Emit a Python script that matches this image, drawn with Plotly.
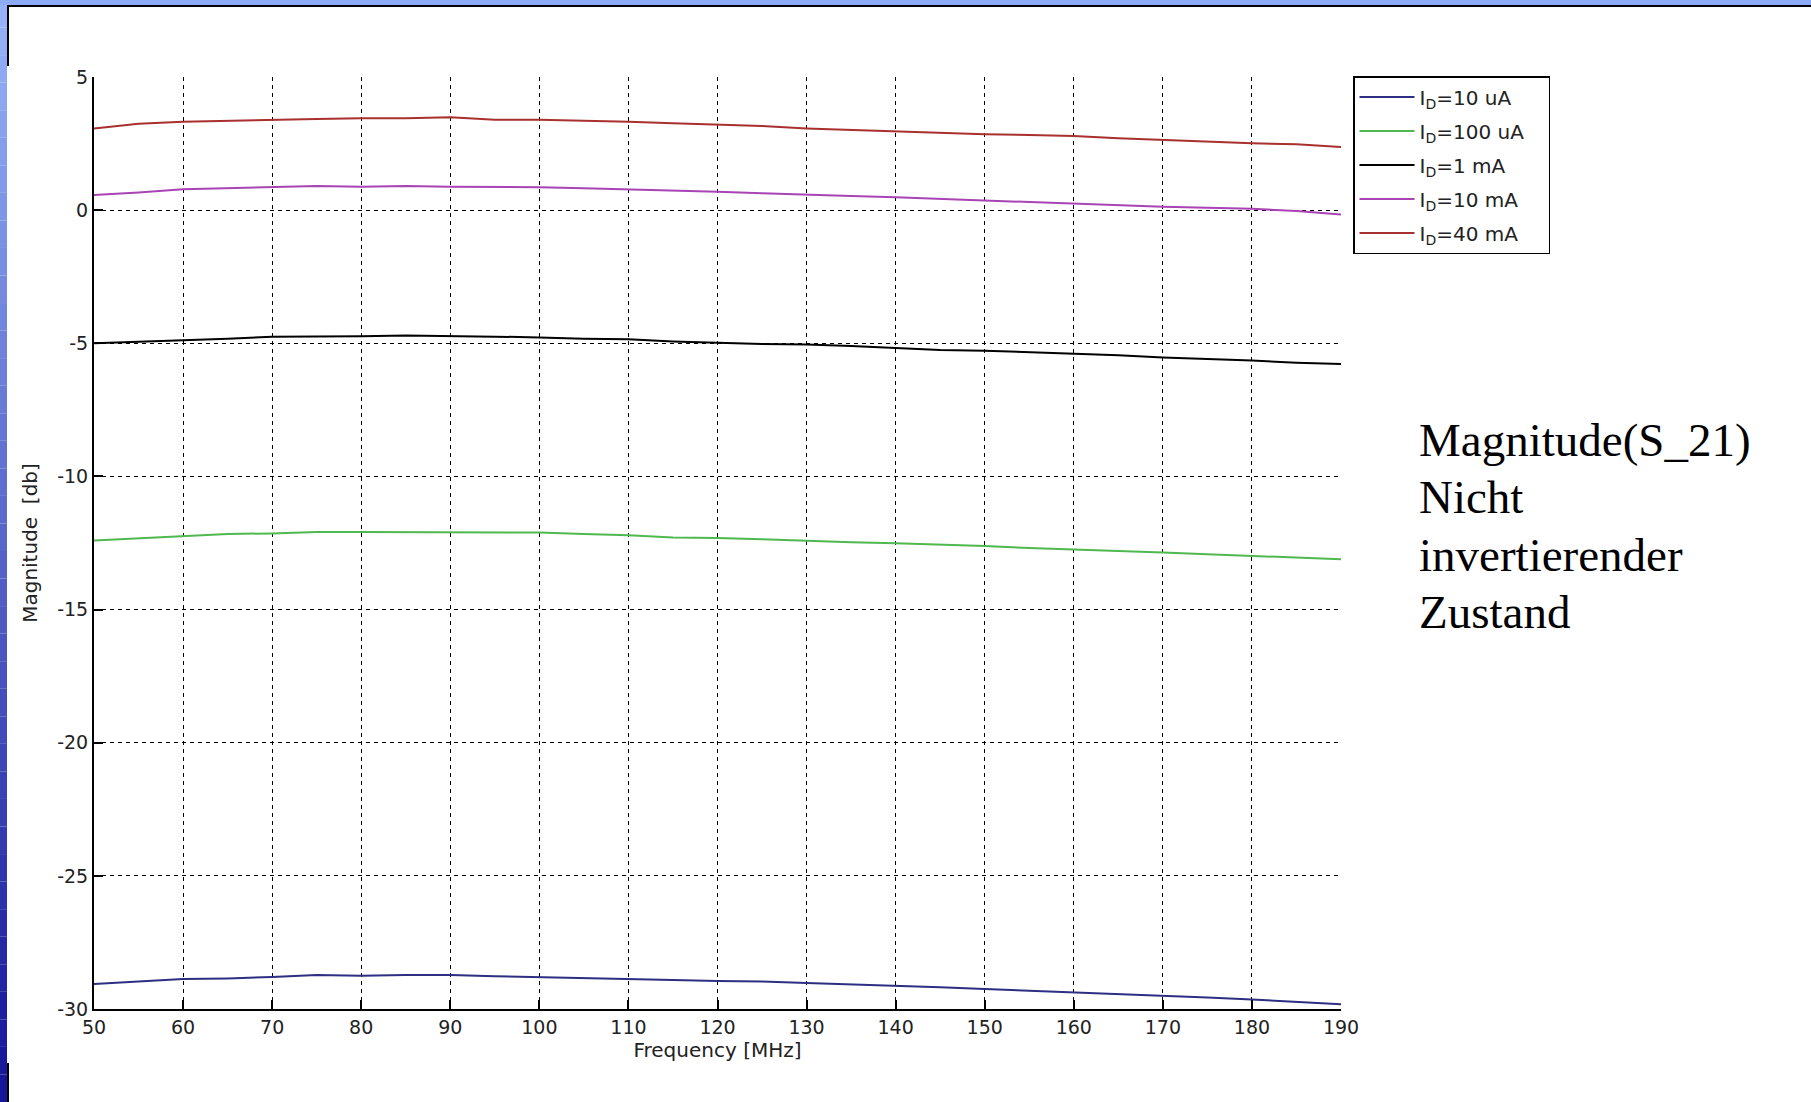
import plotly.graph_objects as go

# ---------------- data ----------------
freq_mhz = [50, 55, 60, 65, 70, 75, 80, 85, 90, 95, 100, 105, 110, 115, 120,
            125, 130, 135, 140, 145, 150, 155, 160, 165, 170, 175, 180, 185, 190]

mag_10uA = [-29.06, -28.97, -28.87, -28.85, -28.80, -28.72, -28.75, -28.72, -28.72, -28.77,
            -28.80, -28.85, -28.87, -28.91, -28.95, -28.97, -29.02, -29.07, -29.12, -29.18,
            -29.25, -29.31, -29.37, -29.45, -29.51, -29.57, -29.64, -29.72, -29.82]
mag_100uA = [-12.41, -12.32, -12.24, -12.16, -12.14, -12.09, -12.09, -12.09, -12.09, -12.09,
             -12.11, -12.16, -12.21, -12.29, -12.31, -12.36, -12.42, -12.47, -12.51, -12.56,
             -12.61, -12.69, -12.74, -12.81, -12.86, -12.92, -12.99, -13.06, -13.11]
mag_1mA = [-5.00, -4.95, -4.90, -4.83, -4.75, -4.75, -4.74, -4.71, -4.72, -4.75,
           -4.78, -4.83, -4.85, -4.93, -4.98, -5.03, -5.05, -5.10, -5.18, -5.25,
           -5.28, -5.33, -5.38, -5.45, -5.53, -5.58, -5.65, -5.73, -5.78]
mag_10mA = [0.57, 0.66, 0.78, 0.83, 0.88, 0.91, 0.88, 0.91, 0.88, 0.87,
            0.86, 0.82, 0.78, 0.73, 0.69, 0.63, 0.57, 0.53, 0.48, 0.42,
            0.36, 0.29, 0.23, 0.18, 0.13, 0.09, 0.05, -0.03, -0.16]
mag_40mA = [3.07, 3.24, 3.32, 3.36, 3.39, 3.42, 3.45, 3.45, 3.49, 3.39,
            3.39, 3.36, 3.32, 3.26, 3.20, 3.16, 3.07, 3.01, 2.95, 2.91,
            2.85, 2.82, 2.78, 2.70, 2.63, 2.57, 2.51, 2.47, 2.37]

series_names = ["I<sub>D</sub>=10 uA", "I<sub>D</sub>=100 uA", "I<sub>D</sub>=1 mA",
                "I<sub>D</sub>=10 mA", "I<sub>D</sub>=40 mA"]
series_values = [mag_10uA, mag_100uA, mag_1mA, mag_10mA, mag_40mA]
series_colors = ["#2e2e82", "#4fb84f", "#000000", "#a844b4", "#a8302e"]

x_tickvals = [50, 60, 70, 80, 90, 100, 110, 120, 130, 140, 150, 160, 170, 180, 190]
x_ticktext = ["50", "60", "70", "80", "90", "100", "110", "120", "130", "140",
              "150", "160", "170", "180", "190"]
y_tickvals = [-30, -25, -20, -15, -10, -5, 0, 5]
y_ticktext = ["-30", "-25", "-20", "-15", "-10", "-5", "0", "5"]

side_text = ["Magnitude(S_21)", "Nicht", "invertierender", "Zustand"]

# ---------------- layout geometry ----------------
W, H = 1811, 1102
L, R, T, B = 94, 1341, 77, 1009
PW, PH = R - L, B - T


def px(xp):
    return (xp - L) / PW


def py(yp):
    return (B - yp) / PH


fig = go.Figure()
for i, (name, vals, col) in enumerate(zip(series_names, series_values, series_colors)):
    fig.add_trace(go.Scatter(x=freq_mhz, y=vals, mode="lines",
                             name=name + "\u00a0\u00a0\u00a0",
                             legendgroup="g%d" % i,
                             line=dict(color=col, width=2)))

shapes = []
# blue slide background strips (gradient approximated by segments)
top_c = (150, 178, 248)
bot_c = (18, 18, 150)
n = 40
for i in range(n):
    t0 = i / n
    t1 = (i + 1) / n
    c = tuple(int(top_c[k] + (bot_c[k] - top_c[k]) * t0) for k in range(3))
    shapes.append(dict(type="rect", xref="paper", yref="paper",
                       x0=px(0), x1=px(7), y0=py(H * t1), y1=py(H * t0),
                       fillcolor="rgb(%d,%d,%d)" % c, line=dict(width=0), layer="above"))
shapes.append(dict(type="rect", xref="paper", yref="paper",
                   x0=px(0), x1=px(W), y0=py(5), y1=py(0),
                   fillcolor="rgb(140,170,245)", line=dict(width=0), layer="above"))
shapes.append(dict(type="line", xref="paper", yref="paper",
                   x0=px(7), x1=px(W), y0=py(6), y1=py(6),
                   line=dict(color="black", width=2), layer="above"))
shapes.append(dict(type="line", xref="paper", yref="paper",
                   x0=px(8), x1=px(8), y0=py(5), y1=py(66),
                   line=dict(color="black", width=2), layer="above"))
shapes.append(dict(type="line", xref="paper", yref="paper",
                   x0=px(8), x1=px(8), y0=py(1063), y1=py(H),
                   line=dict(color="black", width=2), layer="above"))

annotations = []
line_centers = [440, 497, 555, 612]
for txt, yc in zip(side_text, line_centers):
    annotations.append(dict(text=txt, xref="paper", yref="paper",
                            x=px(1417), y=py(yc), xanchor="left", yanchor="middle",
                            showarrow=False,
                            font=dict(family="Liberation Serif, Times New Roman, serif",
                                      size=47, color="black")))

tick_font = dict(family="DejaVu Sans, Arial, sans-serif", size=19, color="#222222")
title_font = dict(family="DejaVu Sans, Arial, sans-serif", size=20, color="#222222")

fig.update_layout(
    width=W, height=H,
    margin=dict(l=L, r=W - R, t=T, b=H - B, pad=0),
    paper_bgcolor="white", plot_bgcolor="white",
    showlegend=True,
    legend=dict(x=px(1353), y=py(76), xanchor="left", yanchor="top",
                bgcolor="white", bordercolor="black", borderwidth=1.5,
                font=dict(family="DejaVu Sans, Arial, sans-serif", size=20, color="#222222"),
                itemwidth=55, tracegroupgap=5, traceorder="grouped"),
    shapes=shapes,
    annotations=annotations,
    xaxis=dict(range=[50, 190], tickvals=x_tickvals, ticktext=x_ticktext,
               showgrid=True, gridcolor="black", gridwidth=1, griddash="4px,4px",
               showline=True, linecolor="black", linewidth=2, mirror=False,
               ticks="inside", ticklen=9, tickcolor="black", tickwidth=1.5,
               zeroline=False, tickfont=tick_font,
               title=dict(text="Frequency [MHz]", font=title_font, standoff=3)),
    yaxis=dict(range=[-30, 5], tickvals=y_tickvals, ticktext=y_ticktext,
               showgrid=True, gridcolor="black", gridwidth=1, griddash="4px,4px",
               showline=True, linecolor="black", linewidth=2, mirror=False,
               ticks="inside", ticklen=9, tickcolor="black", tickwidth=1.5,
               zeroline=False, tickfont=tick_font,
               title=dict(text="Magnitude\u00a0\u00a0[db]", font=title_font, standoff=14)),
)

fig.write_html("out.html")
